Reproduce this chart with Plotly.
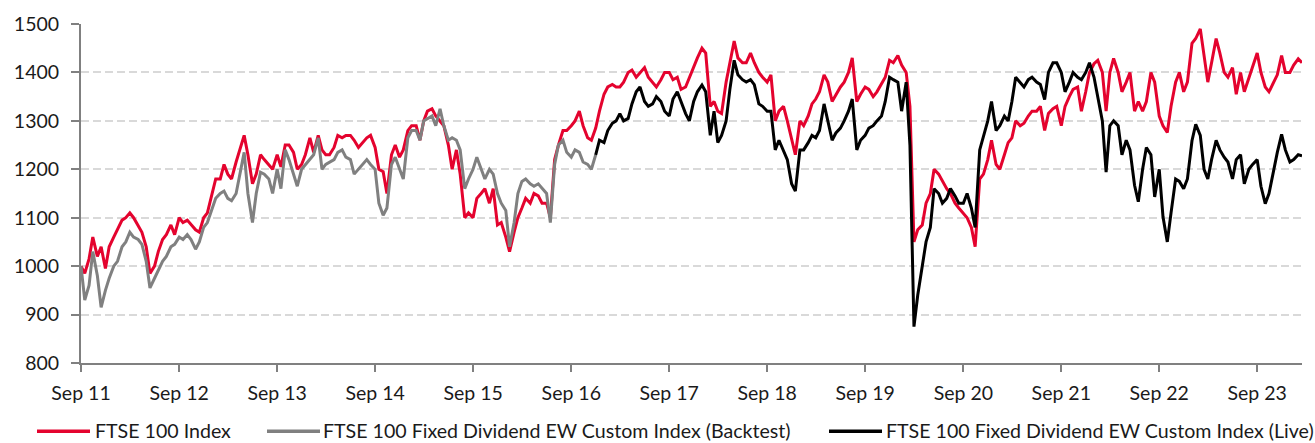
import pandas as pd
import plotly.graph_objects as go

# ---------------- data (semi-monthly readings, indexed) ----------------
dates = pd.date_range("2011-09-01", "2024-02-16", freq="SMS")  # 1st & 15th of each month

ftse_2011 = [1000, 985, 1015, 1060, 1020, 1040, 995, 1040]
ftse_2012 = [1060, 1075, 1095, 1100, 1110, 1100, 1085, 1070, 1040, 985, 1000, 1030,
             1055, 1065, 1085, 1065, 1100, 1090, 1095, 1085, 1075, 1070, 1100, 1110]
ftse_2013 = [1150, 1180, 1180, 1210, 1190, 1180, 1215, 1240, 1270, 1230, 1170, 1190,
             1230, 1220, 1210, 1200, 1230, 1205, 1250, 1250, 1235, 1200, 1210, 1230]
ftse_2014 = [1265, 1235, 1270, 1240, 1230, 1230, 1245, 1270, 1265, 1270, 1270, 1260,
             1245, 1255, 1265, 1270, 1245, 1200, 1195, 1150, 1230, 1250, 1225, 1240]
ftse_2015 = [1280, 1290, 1290, 1260, 1300, 1320, 1325, 1310, 1300, 1290, 1250, 1200,
             1240, 1190, 1100, 1110, 1100, 1140, 1150, 1160, 1130, 1160, 1085, 1090]
ftse_2016 = [1060, 1030, 1070, 1100, 1120, 1140, 1130, 1150, 1145, 1130, 1130, 1100,
             1220, 1250, 1280, 1280, 1290, 1300, 1320, 1290, 1265, 1260, 1285, 1320]
ftse_2017 = [1355, 1370, 1375, 1370, 1370, 1380, 1400, 1405, 1390, 1400, 1410, 1390,
             1380, 1370, 1385, 1400, 1400, 1385, 1390, 1365, 1370, 1390, 1410, 1430]
ftse_2018 = [1450, 1440, 1330, 1340, 1320, 1315, 1380, 1420, 1465, 1430, 1420, 1420,
             1440, 1420, 1400, 1390, 1380, 1395, 1300, 1320, 1330, 1300, 1260, 1230]
ftse_2019 = [1300, 1290, 1310, 1335, 1345, 1360, 1395, 1380, 1340, 1355, 1370, 1380,
             1400, 1430, 1340, 1355, 1370, 1365, 1350, 1360, 1375, 1390, 1425, 1420]
ftse_2020 = [1435, 1415, 1400, 1330, 1050, 1075, 1085, 1130, 1150, 1200, 1190, 1175,
             1160, 1150, 1130, 1120, 1110, 1100, 1080, 1040, 1180, 1190, 1220, 1260]
ftse_2021 = [1210, 1200, 1230, 1255, 1265, 1300, 1290, 1295, 1310, 1320, 1320, 1330,
             1280, 1315, 1325, 1330, 1290, 1330, 1350, 1365, 1370, 1320, 1360, 1400]
ftse_2022 = [1418, 1425, 1400, 1320, 1400, 1429, 1400, 1360, 1380, 1400, 1320, 1340,
             1320, 1340, 1400, 1380, 1310, 1290, 1276, 1330, 1380, 1400, 1360, 1380]
ftse_2023 = [1460, 1470, 1490, 1440, 1380, 1420, 1470, 1440, 1400, 1390, 1410, 1355,
             1400, 1360, 1390, 1410, 1440, 1400, 1370, 1360, 1380, 1395, 1435, 1400]
ftse_2024 = [1400, 1415, 1428, 1420]

backtest_2011 = [1000, 930, 960, 1030, 980, 915, 950, 975]
backtest_2012 = [1000, 1010, 1040, 1050, 1070, 1060, 1055, 1045, 1010, 955, 975, 990,
                 1010, 1020, 1040, 1045, 1060, 1055, 1065, 1055, 1035, 1050, 1080, 1090]
backtest_2013 = [1120, 1140, 1150, 1155, 1140, 1135, 1150, 1190, 1235, 1150, 1090, 1150,
                 1194, 1190, 1180, 1150, 1200, 1160, 1240, 1220, 1190, 1165, 1200, 1210]
backtest_2014 = [1220, 1230, 1265, 1200, 1210, 1214, 1220, 1235, 1240, 1225, 1220, 1190,
                 1200, 1210, 1220, 1210, 1200, 1130, 1105, 1120, 1210, 1225, 1200, 1180]
backtest_2015 = [1265, 1280, 1280, 1260, 1300, 1305, 1310, 1290, 1325, 1290, 1260, 1265,
                 1260, 1240, 1160, 1180, 1200, 1225, 1200, 1180, 1200, 1190, 1150, 1130]
backtest_2016 = [1115, 1040, 1090, 1150, 1175, 1180, 1170, 1165, 1170, 1160, 1150, 1090,
                 1210, 1250, 1260, 1235, 1225, 1240, 1235, 1215, 1210, 1200, 1230]

live_2016 = [1230, 1260]
live_2017 = [1255, 1280, 1295, 1300, 1315, 1300, 1305, 1335, 1360, 1370, 1340, 1330,
             1335, 1350, 1340, 1320, 1310, 1345, 1360, 1340, 1315, 1300, 1340, 1360]
live_2018 = [1374, 1360, 1270, 1320, 1255, 1270, 1300, 1365, 1425, 1395, 1385, 1380,
             1385, 1375, 1335, 1330, 1320, 1320, 1240, 1260, 1240, 1220, 1170, 1155]
live_2019 = [1240, 1240, 1255, 1270, 1265, 1280, 1335, 1300, 1260, 1275, 1285, 1300,
             1320, 1345, 1240, 1260, 1270, 1285, 1290, 1300, 1310, 1340, 1390, 1385]
live_2020 = [1380, 1320, 1380, 1250, 875, 940, 1000, 1050, 1080, 1160, 1150, 1130,
             1140, 1160, 1145, 1130, 1130, 1150, 1120, 1080, 1240, 1270, 1300, 1340]
live_2021 = [1280, 1290, 1310, 1300, 1340, 1390, 1380, 1370, 1385, 1390, 1380, 1375,
             1344, 1400, 1420, 1420, 1400, 1360, 1380, 1400, 1390, 1385, 1400, 1420]
live_2022 = [1390, 1350, 1300, 1194, 1290, 1300, 1290, 1230, 1260, 1240, 1167, 1133,
             1200, 1245, 1230, 1143, 1200, 1102, 1050, 1110, 1180, 1175, 1160, 1180]
live_2023 = [1259, 1293, 1270, 1200, 1180, 1220, 1260, 1240, 1225, 1215, 1180, 1220,
             1230, 1170, 1200, 1210, 1220, 1165, 1129, 1150, 1200, 1235, 1272, 1240]
live_2024 = [1215, 1220, 1230, 1228]

ftse = (ftse_2011 + ftse_2012 + ftse_2013 + ftse_2014 + ftse_2015 + ftse_2016 + ftse_2017
        + ftse_2018 + ftse_2019 + ftse_2020 + ftse_2021 + ftse_2022 + ftse_2023 + ftse_2024)
backtest = (backtest_2011 + backtest_2012 + backtest_2013 + backtest_2014
            + backtest_2015 + backtest_2016)
live = (live_2016 + live_2017 + live_2018 + live_2019 + live_2020 + live_2021
        + live_2022 + live_2023 + live_2024)

series_names = ["FTSE 100 Index",
                "FTSE 100 Fixed Dividend EW Custom Index (Backtest)",
                "FTSE 100 Fixed Dividend EW Custom Index (Live)"]
series_colors = ["#E4032E", "#808080", "#000000"]

live_start = len(dates) - len(live)

# ---------------- figure ----------------
W, H = 1315, 443
L, R, T, B = 81, 13, 20, 80
FONT = "Lato"
TEXT = "#1a1a1a"


def px(x):
    return (x - L) / (W - L - R)


def py(y):
    return (H - B - y) / (H - T - B)


fig = go.Figure()
fig.add_trace(go.Scatter(x=dates, y=ftse, mode="lines", name=series_names[0],
                         line=dict(color=series_colors[0], width=3)))
fig.add_trace(go.Scatter(x=dates[:len(backtest)], y=backtest, mode="lines", name=series_names[1],
                         line=dict(color=series_colors[1], width=3)))
fig.add_trace(go.Scatter(x=dates[live_start:], y=live, mode="lines", name=series_names[2],
                         line=dict(color=series_colors[2], width=3)))

fig.update_layout(
    width=W, height=H,
    margin=dict(l=L, r=R, t=T, b=B, pad=0),
    paper_bgcolor="white", plot_bgcolor="white",
    showlegend=False,
    font=dict(family=FONT, size=19, color=TEXT),
    xaxis=dict(
        type="date", range=[dates[0], dates[-1]],
        tick0="2011-09-01", dtick="M12", tickformat="%b %y",
        ticks="outside", ticklen=7, tickwidth=2, tickcolor="#808080",
        showline=True, linecolor="#808080", linewidth=2,
        showgrid=False, zeroline=False,
        tickfont=dict(family=FONT, size=19.5, color=TEXT),
        ticklabelstandoff=5,
    ),
    yaxis=dict(
        range=[800, 1500], dtick=100, tick0=800,
        ticks="outside", ticklen=8, tickwidth=2, tickcolor="#808080",
        showline=True, linecolor="#808080", linewidth=2,
        showgrid=True, gridcolor="#d9d9d9", gridwidth=1.5, griddash="8px,4px",
        zeroline=False,
        tickfont=dict(family=FONT, size=19.5, color=TEXT),
        ticklabelstandoff=8,
    ),
)

# legend drawn below the plot, one swatch + label per series
legend_line_x = [(37, 90), (267, 320), (829, 882)]
legend_text_x = [94, 322, 885]
legend_y = 432
for (x0, x1), tx, name, color in zip(legend_line_x, legend_text_x, series_names, series_colors):
    fig.add_shape(type="line", xref="paper", yref="paper",
                  x0=px(x0), x1=px(x1), y0=py(legend_y), y1=py(legend_y),
                  line=dict(color=color, width=3.5))
    fig.add_annotation(xref="paper", yref="paper", x=px(tx), y=py(legend_y - 1),
                       xanchor="left", yanchor="middle", showarrow=False,
                       text=name, font=dict(family=FONT, size=19.6, color=TEXT),
                       borderpad=0)

fig.write_html("out.html",
               config={"displayModeBar": False},
               post_script="document.body.style.margin='0px';document.body.style.overflow='hidden';")
